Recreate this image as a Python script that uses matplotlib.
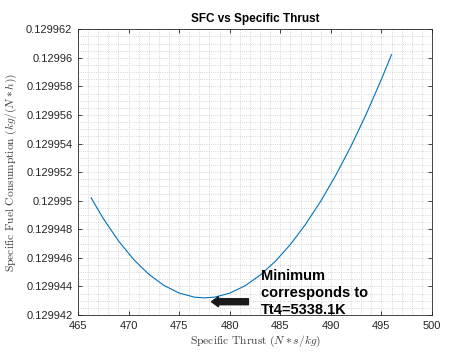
import matplotlib
matplotlib.use('Agg')
import matplotlib.pyplot as plt
from matplotlib.ticker import MultipleLocator, FuncFormatter

# values
thrust = [466.3, 467.5, 469.0, 470.5, 472.0, 473.5, 475.0, 476.5, 477.5, 478.5,
          480.0, 481.5, 483.0, 484.5, 486.0, 487.5, 489.0, 490.5, 492.0, 493.5,
          495.0, 496.0]
sfc = [0.12995020, 0.12994875, 0.12994719, 0.12994589, 0.12994485, 0.12994407,
       0.12994354, 0.12994325, 0.12994320, 0.12994325, 0.12994353, 0.12994404,
       0.12994479, 0.12994575, 0.12994694, 0.12994835, 0.12994997, 0.12995180,
       0.12995383, 0.12995607, 0.12995850, 0.12996023]

arrow_head = (478.2, 0.12994293)
arrow_tail = (481.85, 0.12994293)
note_pos = (483.06, 0.1299452)
note_text = 'Minimum\ncorresponds to\nTt4=5338.1K'

plt.rcParams['mathtext.fontset'] = 'cm'
plt.rcParams['font.family'] = ['Liberation Sans', 'DejaVu Sans']

fig = plt.figure(figsize=(4.57, 3.53), dpi=100)
ax = fig.add_axes([0.1707, 0.1076, 0.7746, 0.8094])
ax.plot(thrust, sfc, color='#0072BD', linewidth=0.8)

ax.set_xlim(465, 500)
ax.set_ylim(0.129942, 0.129962)
ax.xaxis.set_major_locator(MultipleLocator(5))
ax.xaxis.set_minor_locator(MultipleLocator(1))
ax.yaxis.set_major_locator(MultipleLocator(0.000002))
ax.yaxis.set_minor_locator(MultipleLocator(0.0000005))
ax.yaxis.set_major_formatter(FuncFormatter(lambda v, p: ('%.6f' % v).rstrip('0')))

ax.grid(True, which='both', linestyle=':', color='#c8c8c8', linewidth=0.6)
ax.set_axisbelow(True)
ax.tick_params(which='major', direction='in', length=3, width=0.6, colors='#262626',
               labelsize=8, top=True, right=True, pad=4)
ax.tick_params(which='minor', length=0, top=True, right=True)
for s in ax.spines.values():
    s.set_color('#262626')
    s.set_linewidth(0.6)

ax.set_title('SFC vs Specific Thrust', fontsize=8.5, fontweight='bold', pad=5)
ax.set_xlabel(r'$\mathrm{Specific\ Thrust}\ (N*s/kg)$', fontsize=8.3, color='#404040', labelpad=2)
ax.set_ylabel(r'$\mathrm{Specific\ Fuel\ Consumption}\ (kg/(N*h))$', fontsize=8.3,
              color='#404040', labelpad=5)

ax.annotate('', xy=arrow_head, xytext=arrow_tail,
            arrowprops=dict(arrowstyle='simple,head_length=0.5,head_width=0.72,tail_width=0.43',
                            mutation_scale=10, color='#1a1a1a', shrinkA=0, shrinkB=0))
ax.text(note_pos[0], note_pos[1], note_text, fontsize=10.5, fontweight='bold',
        va='top', ha='left', linespacing=1.25, clip_on=False)

fig.savefig('out.png', dpi=100)
